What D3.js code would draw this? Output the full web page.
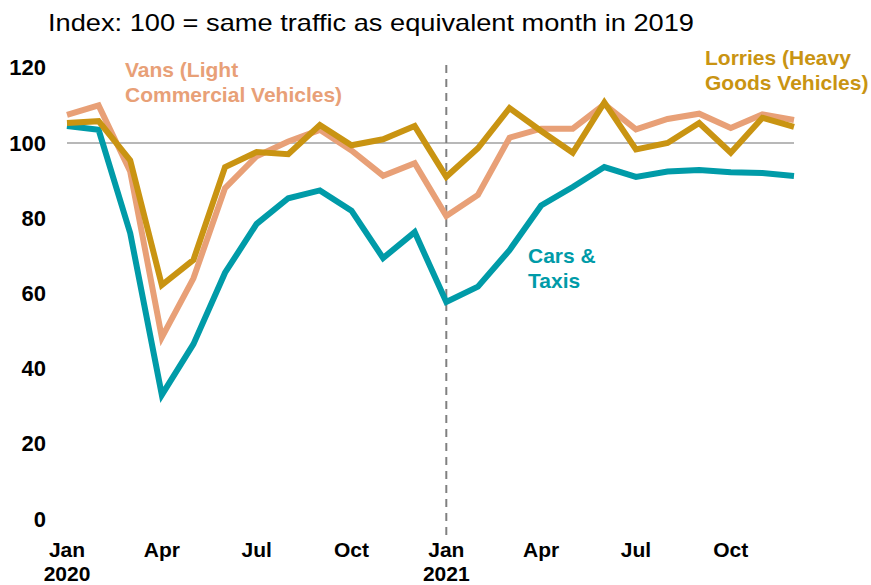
<!DOCTYPE html>
<html>
<head>
<meta charset="utf-8">
<script src="https://cdn.jsdelivr.net/npm/d3@7"></script>
<style>
body { margin: 0; background: #fff; }
svg text { font-family: "Liberation Sans", Arial, sans-serif; }
</style>
</head>
<body>
<script>

// months Jan 2020 .. Dec 2021
var months = ["2020-01","2020-02","2020-03","2020-04","2020-05","2020-06","2020-07","2020-08","2020-09","2020-10","2020-11","2020-12",
              "2021-01","2021-02","2021-03","2021-04","2021-05","2021-06","2021-07","2021-08","2021-09","2021-10","2021-11","2021-12"];

var cars    = [104.5,103.5,76,33,46.5,65.5,78.5,85.3,87.4,82,69.4,76.3, 57.7,61.8,71.5,83.4,88.3,93.6,91,92.4,92.8,92.2,92,91.2];
var vans    = [107.5,110,92.4,48.3,64,88,96.5,100.4,103.5,98,91.3,94.6, 80.6,86.2,101.4,103.8,103.8,110.3,103.6,106.4,107.8,104,107.6,106.1];
var lorries = [105.3,105.8,95.4,62.2,68.9,93.6,97.6,97,104.8,99.4,101,104.5, 91,98.6,109.3,103.2,97.4,110.8,98.3,100,105.3,97.4,106.7,104.3];

var yTicks = [0,20,40,60,80,100,120];
var xTickIdx = [0,3,6,9,12,15,18,21];
var xTickLabels = [["Jan","2020"],["Apr"],["Jul"],["Oct"],["Jan","2021"],["Apr"],["Jul"],["Oct"]];

var width = 871, height = 585;

var svg = d3.select("body").append("svg")
  .attr("width", width)
  .attr("height", height);

var x = d3.scaleLinear().domain([0, months.length - 1]).range([67, 794]);
var y = d3.scaleLinear().domain([0, 120]).range([519, 67.8]);

// title
svg.append("text")
  .attr("x", 48).attr("y", 31)
  .style("font-size", "24px")
  .attr("textLength", 646)
  .attr("lengthAdjust", "spacingAndGlyphs")
  .attr("fill", "#000")
  .text("Index: 100 = same traffic as equivalent month in 2019");

// y axis labels
var yAxis = svg.append("g")
  .attr("transform", "translate(46,0)")
  .call(d3.axisLeft(y).tickValues(yTicks).tickSize(0).tickPadding(0));
yAxis.select(".domain").remove();
yAxis.selectAll("text")
  .style("font-size", "22px")
  .style("font-weight", "bold")
  .attr("fill", "#000")
  .style("font-family", "Liberation Sans, Arial, sans-serif");

// gridline at 100
svg.append("line")
  .attr("x1", x(0)).attr("x2", x(months.length - 1))
  .attr("y1", y(100)).attr("y2", y(100))
  .attr("stroke", "#a0a0a0").attr("stroke-width", 1.3);

// dashed line at Jan 2021
svg.append("line")
  .attr("x1", x(12)).attr("x2", x(12))
  .attr("y1", 65).attr("y2", 535)
  .attr("stroke", "#808080").attr("stroke-width", 2)
  .attr("stroke-dasharray", "8,6");

// x labels
var xl = svg.append("g").selectAll("text")
  .data(xTickIdx)
  .enter().append("text")
  .attr("x", function(d) { return x(d); })
  .attr("y", 557)
  .attr("text-anchor", "middle")
  .style("font-size", "21px")
  .style("font-weight", "bold")
  .attr("fill", "#000");
xl.each(function(d, i) {
  var t = d3.select(this);
  xTickLabels[i].forEach(function(s, j) {
    t.append("tspan").attr("x", x(d)).attr("dy", j === 0 ? 0 : 24).text(s);
  });
});

var line = d3.line()
  .x(function(d, i) { return x(i); })
  .y(function(d) { return y(d); });

var series = [
  { values: cars,    color: "#009ba8" },
  { values: vans,    color: "#e8a077" },
  { values: lorries, color: "#c99412" }
];

svg.selectAll("path.series")
  .data(series)
  .enter().append("path")
  .attr("class", "series")
  .attr("d", function(d) { return line(d.values); })
  .attr("fill", "none")
  .attr("stroke", function(d) { return d.color; })
  .attr("stroke-width", 6);

// series labels
function label(lines, lx, ly, color) {
  var t = svg.append("text")
    .attr("x", lx).attr("y", ly)
    .style("font-size", "21px")
    .style("font-weight", "bold")
    .attr("fill", color);
  lines.forEach(function(s, j) {
    t.append("tspan").attr("x", lx).attr("dy", j === 0 ? 0 : 25).text(s);
  });
}
label(["Vans (Light", "Commercial Vehicles)"], 125, 77, "#e8a077");
label(["Lorries (Heavy", "Goods Vehicles)"], 705, 65, "#c99412");
label(["Cars &", "Taxis"], 528, 263, "#009ba8");

</script>
</body>
</html>
